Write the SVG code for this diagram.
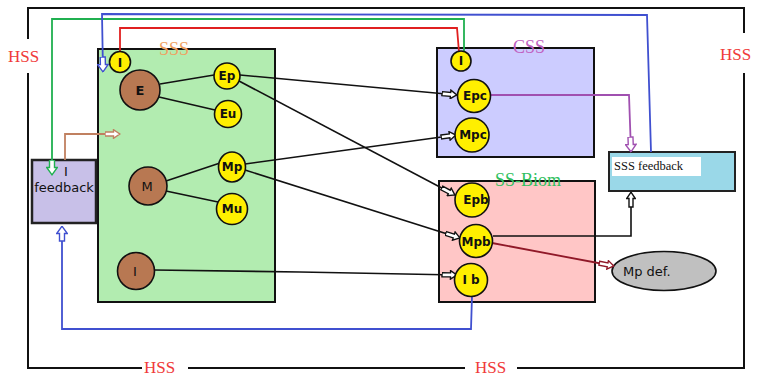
<svg xmlns="http://www.w3.org/2000/svg" width="757" height="378" viewBox="0 0 757 378">
<style>
.frame{fill:none;stroke:#111;stroke-width:2}
.hss{font-family:"Liberation Serif",serif;font-size:17px;fill:#f03a3a}
.box{stroke:#111;stroke-width:2}
.yc{fill:#ffef00;stroke:#111;stroke-width:1.6}
.bc{fill:#b87852;stroke:#111;stroke-width:1.6}
.lbl{font-family:"DejaVu Sans",sans-serif;font-size:12px;font-weight:bold;fill:#111;text-anchor:middle}
.blbl{font-family:"DejaVu Sans",sans-serif;font-size:13px;fill:#111;text-anchor:middle}
.title{font-family:"Liberation Serif",serif;font-size:18px;text-anchor:middle}
.ln{fill:none;stroke:#111;stroke-width:1.6}
.c{fill:none;stroke-width:1.8}
</style>
<defs>
<marker id="ak" markerUnits="userSpaceOnUse" markerWidth="16" markerHeight="10" refX="15.5" refY="5" orient="auto" viewBox="0 0 16 10"><path d="M0.5,3 L9,3 L9,0.7 L15.3,5 L9,9.3 L9,7 L0.5,7 Z" fill="#fff" stroke="#111" stroke-width="1.4"/></marker>
<marker id="ag" markerUnits="userSpaceOnUse" markerWidth="16" markerHeight="12" refX="15.5" refY="6" orient="auto" viewBox="0 0 16 12"><path d="M0.5,3.5 L8,3.5 L8,0.7 L15.3,6 L8,11.3 L8,8.5 L0.5,8.5 Z" fill="#fff" stroke="#20b050" stroke-width="1.4"/></marker>
<marker id="ab" markerUnits="userSpaceOnUse" markerWidth="16" markerHeight="12" refX="15.5" refY="6" orient="auto" viewBox="0 0 16 12"><path d="M0.5,3.5 L8,3.5 L8,0.7 L15.3,6 L8,11.3 L8,8.5 L0.5,8.5 Z" fill="#fff" stroke="#4050d0" stroke-width="1.4"/></marker>
<marker id="an" markerUnits="userSpaceOnUse" markerWidth="16" markerHeight="10" refX="15.5" refY="5" orient="auto" viewBox="0 0 16 10"><path d="M0.5,3 L9,3 L9,0.7 L15.3,5 L9,9.3 L9,7 L0.5,7 Z" fill="#fff" stroke="#c08060" stroke-width="1.4"/></marker>
<marker id="ap" markerUnits="userSpaceOnUse" markerWidth="16" markerHeight="12" refX="15.5" refY="6" orient="auto" viewBox="0 0 16 12"><path d="M0.5,3.5 L8,3.5 L8,0.7 L15.3,6 L8,11.3 L8,8.5 L0.5,8.5 Z" fill="#fff" stroke="#a050b0" stroke-width="1.4"/></marker>
<marker id="ar" markerUnits="userSpaceOnUse" markerWidth="16" markerHeight="10" refX="15.5" refY="5" orient="auto" viewBox="0 0 16 10"><path d="M0.5,3 L9,3 L9,0.7 L15.3,5 L9,9.3 L9,7 L0.5,7 Z" fill="#fff" stroke="#901828" stroke-width="1.4"/></marker>
</defs>
<rect width="757" height="378" fill="#fff"/>

<g id="hss-frame">
<path class="frame" d="M28,39 L28,8 L744,8 L744,33 M744,73 L744,368 L517,368 M465,368 L188,368 M142,368 L28,368 L28,73"/>
<text class="hss" x="8" y="62">HSS</text>
<text class="hss" x="720" y="60">HSS</text>
<text class="hss" x="144" y="373" font-size="16">HSS</text>
<text class="hss" x="475" y="373" font-size="16">HSS</text>
</g>

<g id="sss">
<rect class="box" x="98" y="49" width="177" height="253" fill="#b2ecb0"/>
<text class="title" x="174" y="55" fill="#f0a060">SSS</text>
</g>
<g id="css">
<rect class="box" x="437" y="48" width="157" height="109" fill="#ccccff"/>
<text class="title" x="529" y="53" fill="#c060c0">CSS</text>
</g>
<g id="ssbiom">
<rect class="box" x="439" y="181" width="156" height="121" fill="#ffc6c6"/>
<text class="title" x="528" y="186" fill="#30c060">SS-Biom</text>
</g>
<g id="i-feedback">
<rect x="32" y="160" width="64" height="63" fill="#c8c0e8" stroke="#222" stroke-width="2.5"/>
<text class="blbl" x="66" y="176" font-size="11">I</text>
<text class="blbl" x="64" y="192" font-size="11">feedback</text>
</g>
<g id="sss-feedback">
<rect x="609" y="152" width="126" height="39" fill="#9ad8e8" stroke="#222" stroke-width="2"/>
<rect x="612" y="157" width="89" height="19" fill="#fff"/>
<text x="614" y="170" font-family="Liberation Serif,serif" font-size="12.5" fill="#111">SSS feedback</text>
</g>
<g id="mpdef">
<ellipse cx="664" cy="271" rx="52" ry="19.5" fill="#c0c0c0" stroke="#111" stroke-width="1.6"/>
<text x="623" y="276" font-family="DejaVu Sans,sans-serif" font-size="13" fill="#111">Mp def.</text>
</g>

<g id="connectors">
<line class="ln" x1="160" y1="84" x2="214" y2="75"/>
<line class="ln" x1="159" y1="97" x2="215" y2="110"/>
<line class="ln" x1="166" y1="181" x2="220" y2="163"/>
<line class="ln" x1="166" y1="191" x2="218" y2="202"/>
<line class="ln" x1="240" y1="75" x2="457" y2="95" marker-end="url(#ak)"/>
<line class="ln" x1="239" y1="81" x2="455" y2="195" marker-end="url(#ak)"/>
<line class="ln" x1="245" y1="164" x2="456" y2="135" marker-end="url(#ak)"/>
<line class="ln" x1="245" y1="170" x2="460" y2="238" marker-end="url(#ak)"/>
<polyline class="ln" points="154,270 300,272 457,275" marker-end="url(#ak)"/>
<polyline class="ln" points="493,236 631,236 631,192" marker-end="url(#ak)"/>
<line class="c" stroke="#901828" x1="492" y1="243" x2="614" y2="266" marker-end="url(#ar)"/>
<polyline class="c" stroke="#e02020" points="120,52 120,28 457,28 459,52"/>
<polyline class="c" stroke="#20b050" points="464,52 464,19 52,19 52,175" marker-end="url(#ag)"/>
<polyline class="c" stroke="#4050d0" points="651,152 647,15 102,14 103,72" marker-end="url(#ab)"/>
<polyline class="c" stroke="#4050d0" points="472,296 471,329 62,329 62,226" marker-end="url(#ab)"/>
<polyline class="c" stroke="#c08060" points="65,160 65,134 120,134" marker-end="url(#an)"/>
<polyline class="c" stroke="#a050b0" points="491,95 629,95 631,152" marker-end="url(#ap)"/>
</g>

<g id="n-i-sss"><circle class="yc" cx="120" cy="62" r="10.5"/><text class="lbl" x="120" y="67" font-size="13">I</text></g>
<g id="n-e"><circle class="bc" cx="140" cy="90" r="20"/><text class="blbl" x="140" y="95" font-size="14" font-weight="bold">E</text></g>
<g id="n-ep"><circle class="yc" cx="227" cy="76" r="13"/><text class="lbl" x="227" y="80">Ep</text></g>
<g id="n-eu"><circle class="yc" cx="228" cy="114" r="13.5"/><text class="lbl" x="228" y="118">Eu</text></g>
<g id="n-m"><circle class="bc" cx="148" cy="186" r="19"/><text class="blbl" x="147" y="191" font-size="14">M</text></g>
<g id="n-mp"><ellipse class="yc" cx="232" cy="167" rx="13.5" ry="15"/><text class="lbl" x="232" y="171" font-weight="normal">Mp</text></g>
<g id="n-mu"><circle class="yc" cx="232" cy="209" r="15.5"/><text class="lbl" x="232" y="213" font-weight="normal">Mu</text></g>
<g id="n-i-b"><circle class="bc" cx="136" cy="271" r="18.5"/><text class="blbl" x="135" y="276">I</text></g>
<g id="n-i-css"><circle class="yc" cx="461" cy="61" r="10"/><text class="lbl" x="461" y="65">I</text></g>
<g id="n-epc"><circle class="yc" cx="474" cy="96" r="16.5"/><text class="lbl" x="475" y="100">Epc</text></g>
<g id="n-mpc"><circle class="yc" cx="472" cy="135" r="17"/><text class="lbl" x="473" y="139" font-weight="normal">Mpc</text></g>
<g id="n-epb"><circle class="yc" cx="472" cy="200" r="17"/><text class="lbl" x="476" y="204">Epb</text></g>
<g id="n-mpb"><circle class="yc" cx="476" cy="241" r="16.5"/><text class="lbl" x="476" y="246" font-weight="normal">Mpb</text></g>
<g id="n-ib"><circle class="yc" cx="471" cy="280" r="16.5"/><text class="lbl" x="471" y="284" font-weight="normal">I b</text></g>
</svg>
